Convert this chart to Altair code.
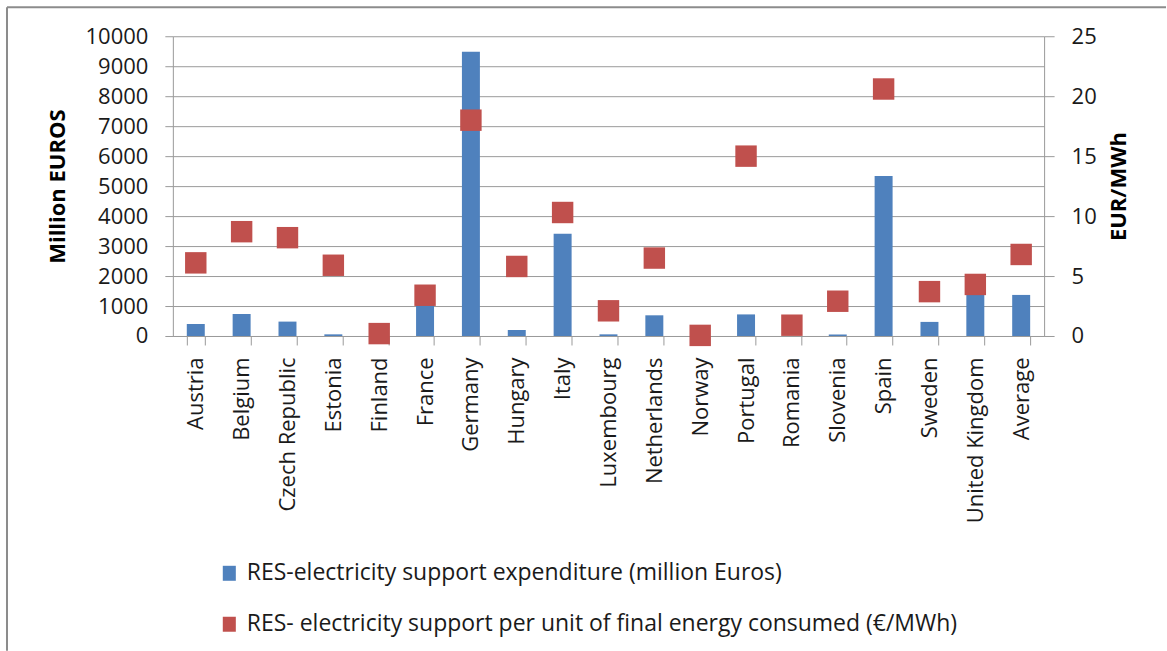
import altair as alt
import pandas as pd

# Support for renewable electricity, by country
countries = [
    "Austria", "Belgium", "Czech Republic", "Estonia", "Finland", "France",
    "Germany", "Hungary", "Italy", "Luxembourg", "Netherlands", "Norway",
    "Portugal", "Romania", "Slovenia", "Spain", "Sweden", "United Kingdom",
    "Average",
]
# RES-electricity support expenditure, million euros
expenditure = [400, 730, 480, 55, 0, 1100, 9480, 200, 3410, 55, 690, 0,
               720, 0, 50, 5340, 470, 1450, 1370]
# Support per unit of final energy consumed, EUR/MWh
per_unit = [6.1, 8.7, 8.2, 5.9, 0.2, 3.4, 18.0, 5.8, 10.3, 2.1, 6.5, 0.05,
            15.0, 0.9, 2.9, 20.6, 3.7, 4.3, 6.8]

left_ticks = [0, 1000, 2000, 3000, 4000, 5000, 6000, 7000, 8000, 9000, 10000]
right_ticks = [0, 5, 10, 15, 20, 25]

series_names = [
    "RES-electricity support expenditure (million Euros)",
    "RES- electricity support per unit of final energy consumed (€/MWh)",
]
series_colors = ["#4F81BD", "#C0504D"]

df = pd.DataFrame({
    "country": countries,
    "expenditure": expenditure,
    "per_unit": per_unit,
    "bar_series": [series_names[0]] * len(countries),
    "point_series": [series_names[1]] * len(countries),
})

FONT = "Open Sans"
GRID = "#9a9a9a"
TEXT = "#1a1a1a"

color_scale = alt.Scale(domain=series_names, range=series_colors)

x_enc = alt.X(
    "country:N", sort=countries, title=None,
    scale=alt.Scale(paddingInner=0.608, paddingOuter=0.304),
    axis=alt.Axis(labelAngle=-90, labelAlign="right", labelBaseline="middle",
                  labelFontSize=22, labelPadding=12, tickSize=9,
                  tickBand="extent", domainColor=GRID, tickColor=GRID,
                  labelColor=TEXT, labelFont=FONT, grid=False),
)

bars = alt.Chart(df).mark_bar().encode(
    x=x_enc,
    y=alt.Y("expenditure:Q", scale=alt.Scale(domain=[0, 10000], nice=False),
            axis=alt.Axis(values=left_ticks, format="d",
                          title="Million EUROS",
                          grid=True, gridColor=GRID, domainColor=GRID,
                          tickColor=GRID, tickSize=8, labelPadding=17,
                          labelFontSize=22, labelFont=FONT, labelColor=TEXT,
                          titleFont=FONT, titleFontSize=22,
                          titleFontWeight="bold", titleColor="#000000",
                          titlePadding=16)),
    color=alt.Color("bar_series:N", scale=color_scale,
                    legend=alt.Legend(
                        title=None, orient="none", legendX=45,
                        legendY=526, direction="vertical",
                        symbolType="M-0.87,-1L0.87,-1L0.87,1L-0.87,1Z",
                        symbolSize=225, symbolStrokeWidth=0,
                        symbolOpacity=1, labelFont=FONT,
                        labelFontSize=23, labelColor=TEXT,
                        labelOffset=6, rowPadding=27, padding=0,
                        labelLimit=900)),
)

points = alt.Chart(df).mark_point(shape="square", filled=True, size=460,
                                  opacity=1).encode(
    x=alt.X("country:N", sort=countries),
    y=alt.Y("per_unit:Q", scale=alt.Scale(domain=[0, 25], nice=False),
            axis=alt.Axis(orient="right", values=right_ticks,
                          title="EUR/MWh", titleAngle=270,
                          titleBaseline="top", grid=False,
                          domainColor=GRID, tickColor=GRID, tickSize=10,
                          labelPadding=17, labelFontSize=22, labelFont=FONT,
                          labelColor=TEXT, titleFont=FONT, titleFontSize=22,
                          titleFontWeight="bold", titleColor="#000000",
                          titlePadding=12)),
    color=alt.Color("point_series:N", scale=color_scale),
)

# Outer frame edges (top and left)
edge = pd.DataFrame({"k": [0]})
top_edge = alt.Chart(edge).mark_rule(color="#8c8c8c", strokeWidth=2).encode(
    x=alt.value(-166), x2=alt.value(994), y=alt.value(-29))
left_edge = alt.Chart(edge).mark_rule(color="#8c8c8c", strokeWidth=2).encode(
    x=alt.value(-166), y=alt.value(-29), y2=alt.value(615))

chart = alt.layer(top_edge, left_edge, bars, points).resolve_scale(
    y="independent"
).properties(
    width=872, height=300,
    padding={"left": 6, "top": 6, "right": 0, "bottom": 0},
    background="white",
).configure_view(stroke=None)

chart.save("out.html", embed_options={"renderer": "svg", "actions": False})
